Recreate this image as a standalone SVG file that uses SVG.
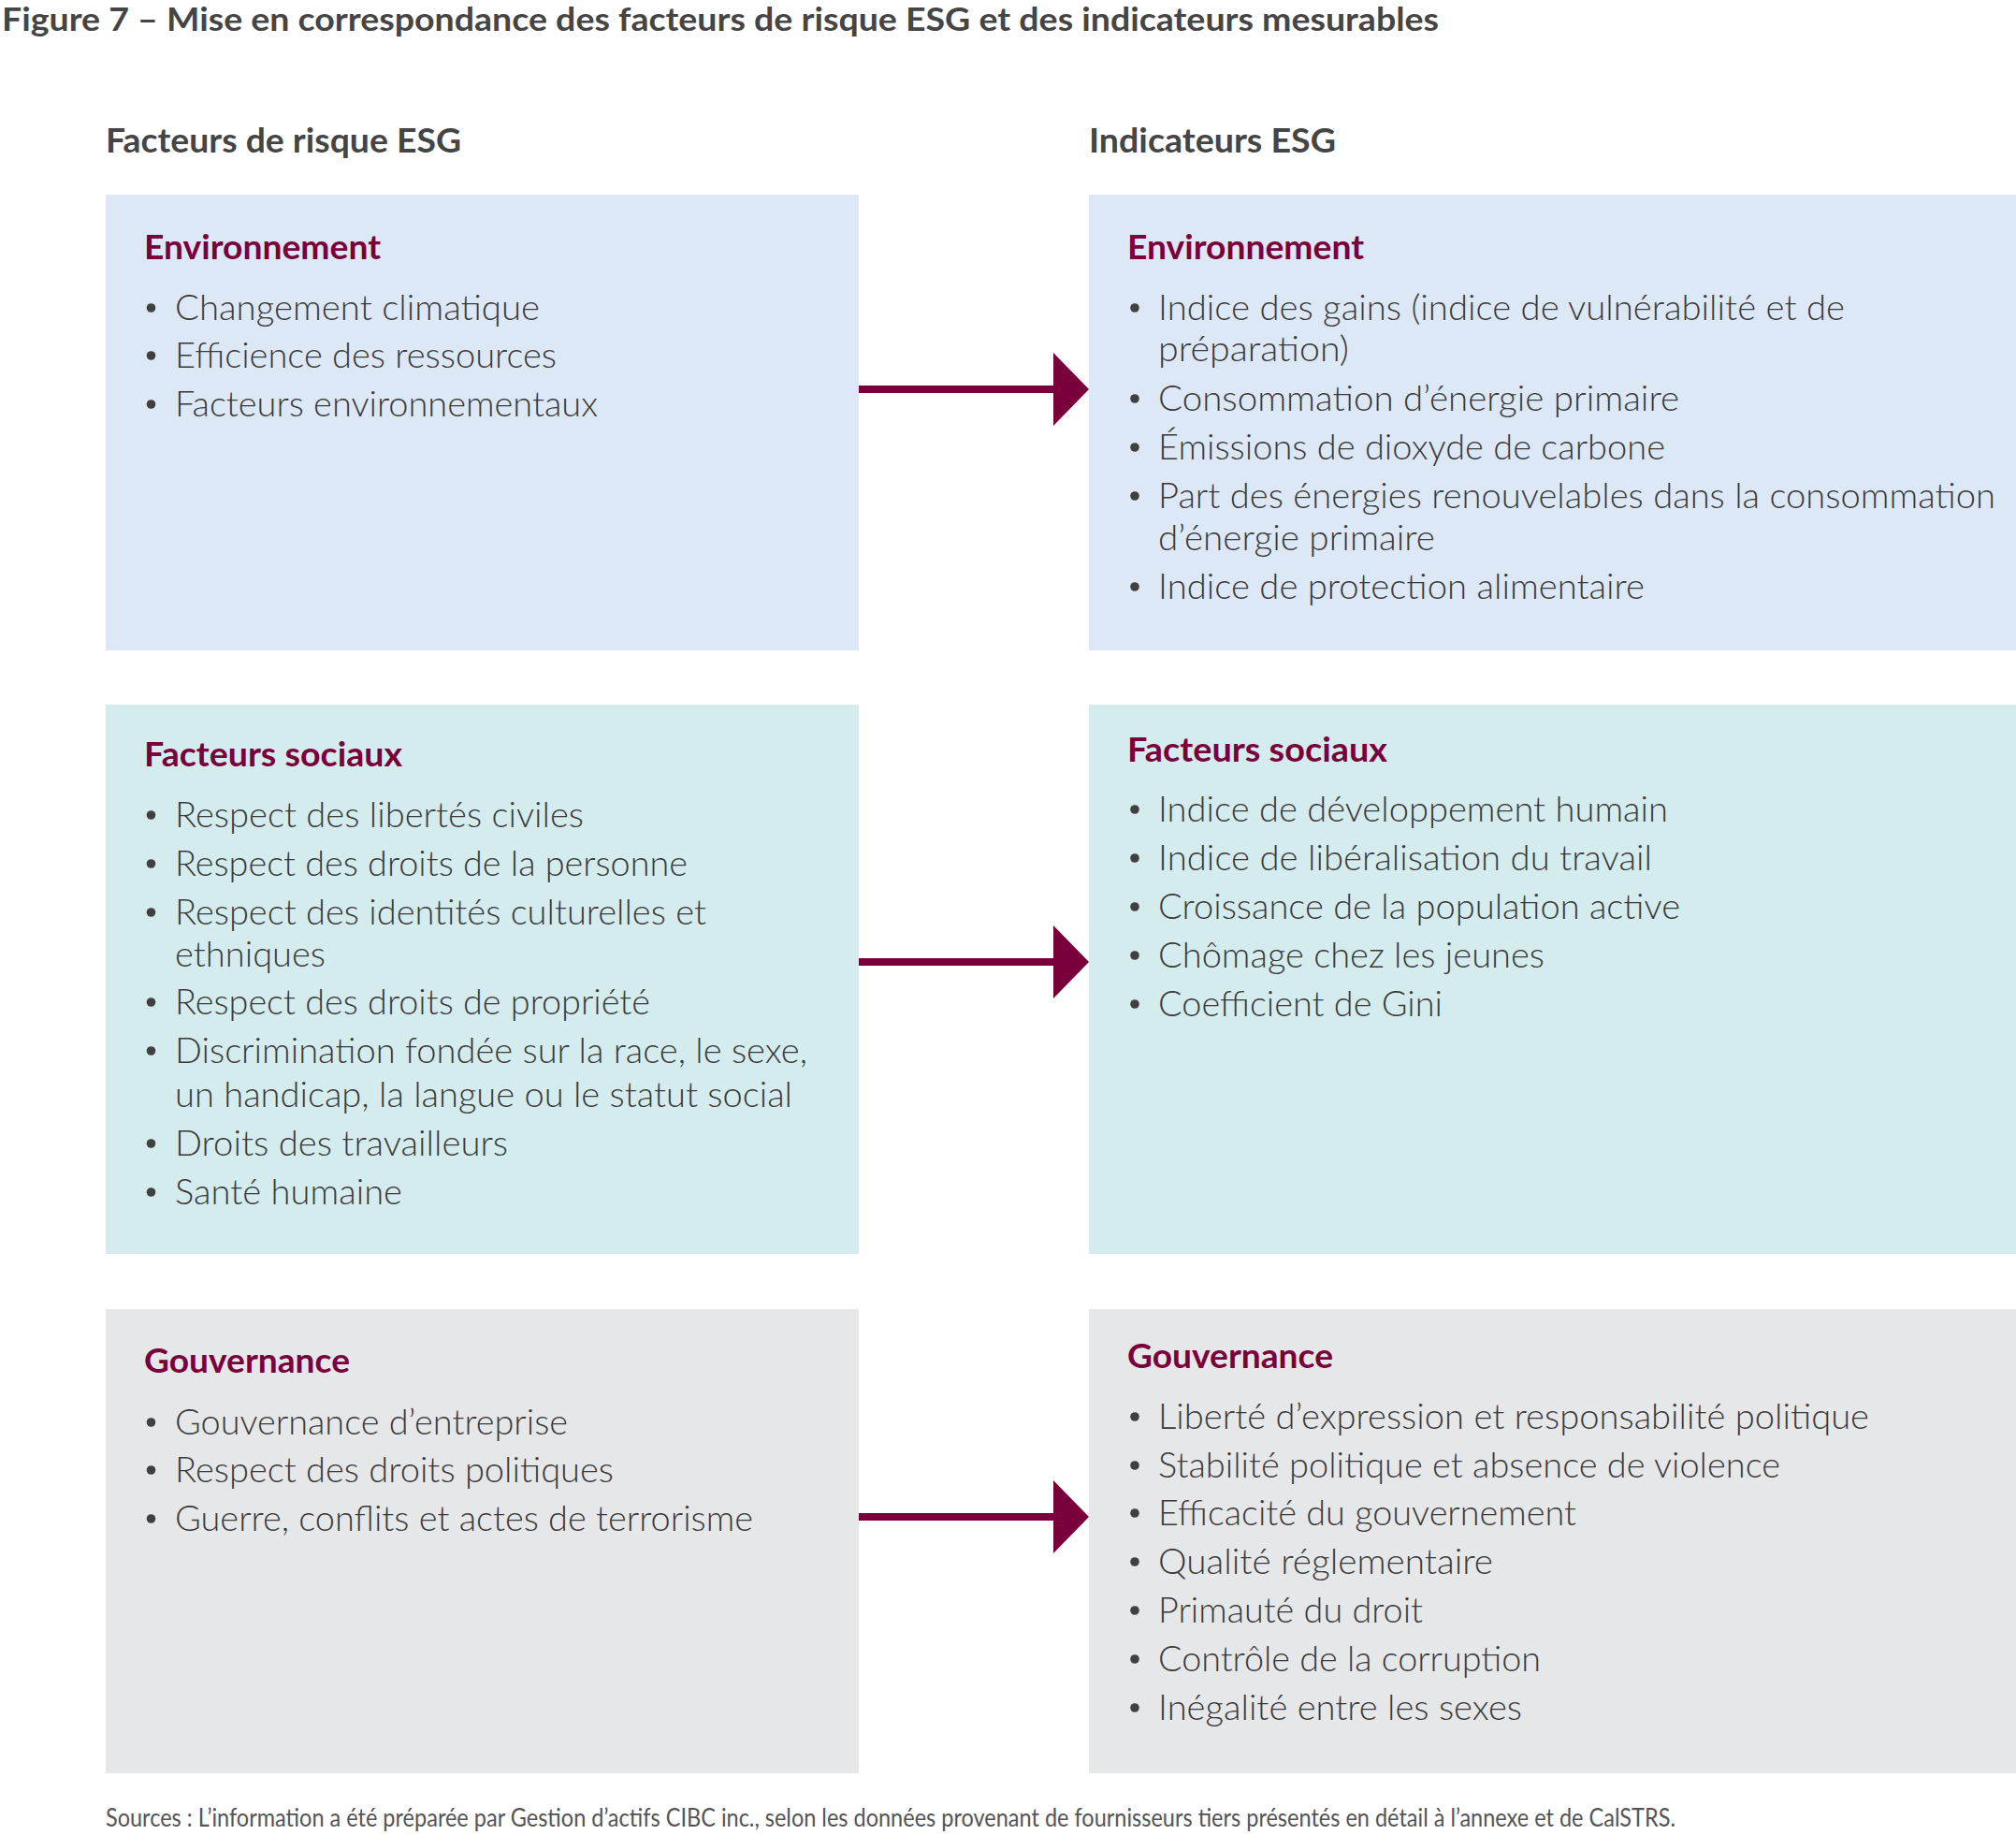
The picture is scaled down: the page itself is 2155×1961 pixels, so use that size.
<svg xmlns="http://www.w3.org/2000/svg" width="2155" height="1961" viewBox="0 0 2155 1961">
<defs>
<style>
.title{font-family:Lato,"Liberation Sans",sans-serif;font-weight:700;font-size:35px;fill:#454545}
.colh{font-family:Lato,"Liberation Sans",sans-serif;font-weight:700;font-size:36px;fill:#454545}
.sech{font-family:Lato,"Liberation Sans",sans-serif;font-weight:700;font-size:37px;fill:#7a003c}
.item{font-family:Lato,"Liberation Sans",sans-serif;font-weight:300;font-size:37px;fill:#3a3a3a}
.src{font-family:Lato,"Liberation Sans",sans-serif;font-weight:400;font-size:27px;fill:#555555}
.env{fill:#dde8f6}
.soc{fill:#d4ecee}
.gov{fill:#e6e7e9}
.bul{fill:#404040}
.conn{stroke:#7a003c;stroke-width:8;fill:none}
</style>
<marker id="head" markerUnits="userSpaceOnUse" markerWidth="38" markerHeight="78" refX="0" refY="39" orient="auto">
<path d="M0,0 L38,39 L0,78 Z" fill="#7a003c"/>
</marker>
<circle id="b" r="4.8" class="bul"/>
</defs>
<rect width="2155" height="1961" fill="#ffffff"/>

<g id="title">
<text class="title" x="2" y="33" textLength="1536" lengthAdjust="spacingAndGlyphs">Figure 7 – Mise en correspondance des facteurs de risque ESG et des indicateurs mesurables</text>
</g>
<g id="col-left-header"><text class="colh" x="113" y="163" textLength="380" lengthAdjust="spacingAndGlyphs">Facteurs de risque ESG</text></g>
<g id="col-right-header"><text class="colh" x="1164" y="163" textLength="264" lengthAdjust="spacingAndGlyphs">Indicateurs ESG</text></g>

<g id="risk-env">
<rect class="env" x="113" y="208" width="805" height="487"/>
<text class="sech" x="154" y="277" textLength="253" lengthAdjust="spacingAndGlyphs">Environnement</text>
<use href="#b" x="161.5" y="329"/><text class="item" x="187" y="342" textLength="390" lengthAdjust="spacingAndGlyphs">Changement climatique</text>
<use href="#b" x="161.5" y="380"/><text class="item" x="187" y="393" textLength="408" lengthAdjust="spacingAndGlyphs">Efficience des ressources</text>
<use href="#b" x="161.5" y="432"/><text class="item" x="187" y="445" textLength="452" lengthAdjust="spacingAndGlyphs">Facteurs environnementaux</text>
</g>

<g id="ind-env">
<rect class="env" x="1164" y="208" width="991" height="487"/>
<text class="sech" x="1205" y="277" textLength="253" lengthAdjust="spacingAndGlyphs">Environnement</text>
<use href="#b" x="1213" y="329"/><text class="item" x="1238" y="342" textLength="734" lengthAdjust="spacingAndGlyphs">Indice des gains (indice de vulnérabilité et de</text>
<text class="item" x="1238" y="386" textLength="204" lengthAdjust="spacingAndGlyphs">préparation)</text>
<use href="#b" x="1213" y="426"/><text class="item" x="1238" y="439" textLength="557" lengthAdjust="spacingAndGlyphs">Consommation d’énergie primaire</text>
<use href="#b" x="1213" y="478"/><text class="item" x="1238" y="491" textLength="542" lengthAdjust="spacingAndGlyphs">Émissions de dioxyde de carbone</text>
<use href="#b" x="1213" y="530"/><text class="item" x="1238" y="543" textLength="895" lengthAdjust="spacingAndGlyphs">Part des énergies renouvelables dans la consommation</text>
<text class="item" x="1238" y="588" textLength="296" lengthAdjust="spacingAndGlyphs">d’énergie primaire</text>
<use href="#b" x="1213" y="627"/><text class="item" x="1238" y="640" textLength="520" lengthAdjust="spacingAndGlyphs">Indice de protection alimentaire</text>
</g>

<g id="risk-soc">
<rect class="soc" x="113" y="753" width="805" height="587"/>
<text class="sech" x="154" y="819" textLength="276" lengthAdjust="spacingAndGlyphs">Facteurs sociaux</text>
<use href="#b" x="161.5" y="871"/><text class="item" x="187" y="884" textLength="437" lengthAdjust="spacingAndGlyphs">Respect des libertés civiles</text>
<use href="#b" x="161.5" y="923"/><text class="item" x="187" y="936" textLength="548" lengthAdjust="spacingAndGlyphs">Respect des droits de la personne</text>
<use href="#b" x="161.5" y="975"/><text class="item" x="187" y="988" textLength="568" lengthAdjust="spacingAndGlyphs">Respect des identités culturelles et</text>
<text class="item" x="187" y="1033" textLength="161" lengthAdjust="spacingAndGlyphs">ethniques</text>
<use href="#b" x="161.5" y="1071"/><text class="item" x="187" y="1084" textLength="508" lengthAdjust="spacingAndGlyphs">Respect des droits de propriété</text>
<use href="#b" x="161.5" y="1123"/><text class="item" x="187" y="1136" textLength="676" lengthAdjust="spacingAndGlyphs">Discrimination fondée sur la race, le sexe,</text>
<text class="item" x="187" y="1183" textLength="660" lengthAdjust="spacingAndGlyphs">un handicap, la langue ou le statut social</text>
<use href="#b" x="161.5" y="1222"/><text class="item" x="187" y="1235" textLength="356" lengthAdjust="spacingAndGlyphs">Droits des travailleurs</text>
<use href="#b" x="161.5" y="1274"/><text class="item" x="187" y="1287" textLength="243" lengthAdjust="spacingAndGlyphs">Santé humaine</text>
</g>

<g id="ind-soc">
<rect class="soc" x="1164" y="753" width="991" height="587"/>
<text class="sech" x="1205" y="814" textLength="278" lengthAdjust="spacingAndGlyphs">Facteurs sociaux</text>
<use href="#b" x="1213" y="865"/><text class="item" x="1238" y="878" textLength="545" lengthAdjust="spacingAndGlyphs">Indice de développement humain</text>
<use href="#b" x="1213" y="917"/><text class="item" x="1238" y="930" textLength="528" lengthAdjust="spacingAndGlyphs">Indice de libéralisation du travail</text>
<use href="#b" x="1213" y="969"/><text class="item" x="1238" y="982" textLength="558" lengthAdjust="spacingAndGlyphs">Croissance de la population active</text>
<use href="#b" x="1213" y="1021"/><text class="item" x="1238" y="1034" textLength="413" lengthAdjust="spacingAndGlyphs">Chômage chez les jeunes</text>
<use href="#b" x="1213" y="1073"/><text class="item" x="1238" y="1086" textLength="304" lengthAdjust="spacingAndGlyphs">Coefficient de Gini</text>
</g>

<g id="risk-gov">
<rect class="gov" x="113" y="1399" width="805" height="496"/>
<text class="sech" x="154" y="1467" textLength="220" lengthAdjust="spacingAndGlyphs">Gouvernance</text>
<use href="#b" x="161.5" y="1520"/><text class="item" x="187" y="1533" textLength="420" lengthAdjust="spacingAndGlyphs">Gouvernance d’entreprise</text>
<use href="#b" x="161.5" y="1571"/><text class="item" x="187" y="1584" textLength="469" lengthAdjust="spacingAndGlyphs">Respect des droits politiques</text>
<use href="#b" x="161.5" y="1623"/><text class="item" x="187" y="1636" textLength="618" lengthAdjust="spacingAndGlyphs">Guerre, conflits et actes de terrorisme</text>
</g>

<g id="ind-gov">
<rect class="gov" x="1164" y="1399" width="991" height="496"/>
<text class="sech" x="1205" y="1462" textLength="220" lengthAdjust="spacingAndGlyphs">Gouvernance</text>
<use href="#b" x="1213" y="1514"/><text class="item" x="1238" y="1527" textLength="760" lengthAdjust="spacingAndGlyphs">Liberté d’expression et responsabilité politique</text>
<use href="#b" x="1213" y="1566"/><text class="item" x="1238" y="1579" textLength="665" lengthAdjust="spacingAndGlyphs">Stabilité politique et absence de violence</text>
<use href="#b" x="1213" y="1617"/><text class="item" x="1238" y="1630" textLength="447" lengthAdjust="spacingAndGlyphs">Efficacité du gouvernement</text>
<use href="#b" x="1213" y="1669"/><text class="item" x="1238" y="1682" textLength="358" lengthAdjust="spacingAndGlyphs">Qualité réglementaire</text>
<use href="#b" x="1213" y="1721"/><text class="item" x="1238" y="1734" textLength="283" lengthAdjust="spacingAndGlyphs">Primauté du droit</text>
<use href="#b" x="1213" y="1773"/><text class="item" x="1238" y="1786" textLength="409" lengthAdjust="spacingAndGlyphs">Contrôle de la corruption</text>
<use href="#b" x="1213" y="1825"/><text class="item" x="1238" y="1838" textLength="389" lengthAdjust="spacingAndGlyphs">Inégalité entre les sexes</text>
</g>

<g id="connectors">
<line class="conn" x1="918" y1="416" x2="1126" y2="416" marker-end="url(#head)"/>
<line class="conn" x1="918" y1="1028" x2="1126" y2="1028" marker-end="url(#head)"/>
<line class="conn" x1="918" y1="1621" x2="1126" y2="1621" marker-end="url(#head)"/>
</g>

<g id="sources">
<text class="src" x="113" y="1952" textLength="1678" lengthAdjust="spacingAndGlyphs">Sources : L’information a été préparée par Gestion d’actifs CIBC inc., selon les données provenant de fournisseurs tiers présentés en détail à l’annexe et de CalSTRS.</text>
</g>
</svg>
